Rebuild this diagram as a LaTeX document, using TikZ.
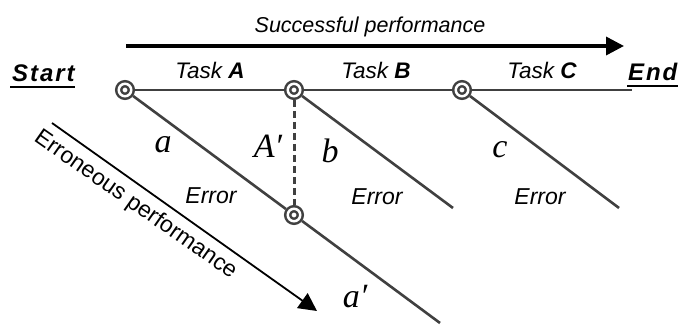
\documentclass[tikz,border=0pt]{standalone}
\usepackage{fontspec}
\setmainfont{Liberation Sans}
\newfontfamily\tmsfont{Liberation Serif}
\usetikzlibrary{arrows.meta}
\definecolor{ln}{HTML}{404040}
\begin{document}
\begin{tikzpicture}[x=1pt,y=-1pt,
  evt/.style={circle,draw=ln,line width=2.5pt,double=white,double distance=2.5pt,fill=white,
    minimum size=12.5pt,inner sep=0pt,outer sep=3.75pt},
  track/.style={draw=ln,line width=2.6pt},
  dashtrack/.style={draw=ln,line width=3pt,dash pattern=on 7pt off 4pt},
  lbl/.style={font=\fontsize{21.5}{24}\selectfont\itshape,anchor=base,inner sep=0pt},
  tasklbl/.style={lbl,font=\fontsize{22.5}{26}\selectfont\itshape},
  errlbl/.style={lbl,font=\fontsize{23}{26}\selectfont\itshape},
  ends/.style={font=\fontsize{24}{27}\selectfont\bfseries\itshape\addfontfeature{LetterSpace=8},anchor=base west,inner sep=0pt},
  mth/.style={font=\fontsize{34}{38}\selectfont\tmsfont\itshape,anchor=base,inner sep=0pt},
  bigarrow/.style={draw=black,-{Triangle[length=18pt,width=18pt]}}
]
\useasboundingbox (0,0) rectangle (680,331);

% headline arrow
\coordinate (sa) at (126,46);
\coordinate (sb) at (624,46);
\draw[bigarrow,line width=3.5pt] (sa) -- (sb);
\node[lbl] (succ) at (370,33) {Successful performance};

% start / end
\node[ends] (start) at (12,82) {Start};
\draw[line width=2.6pt] ([yshift=-5pt,xshift=-2pt]start.base west) -- ([yshift=-5pt]start.base east);
\node[ends] (end) at (628,81) {End};
\draw[line width=2.6pt] ([yshift=-5pt,xshift=-1pt]end.base west) -- ([yshift=-5pt]end.base east);

% task labels
\node[tasklbl] (tA) at (210,79) {Task \textbf{A}};
\node[tasklbl] (tB) at (376,79) {Task \textbf{B}};
\node[tasklbl] (tC) at (542,79) {Task \textbf{C}};

% event nodes
\node[evt] (n1) at (125,90) {};
\node[evt] (n2) at (294,90) {};
\node[evt] (n3) at (462,90) {};
\node[evt] (n4) at (294,215) {};
\coordinate (hend) at (632,90);
\coordinate (e1) at (440,323);
\coordinate (e2) at (453,208);
\coordinate (e3) at (619,208);

% tracks
\draw[track] (n1) -- (n2);
\draw[track] (n2) -- (n3);
\draw[track] (n3) -- (hend);
\draw[track] (n1) -- (n4);
\draw[track] (n4) -- (e1);
\draw[track] (n2) -- (e2);
\draw[track] (n3) -- (e3);
\draw[dashtrack] (n2) -- (n4);

% error labels
\node[errlbl] (err1) at (211,204) {Error};
\node[errlbl] (err2) at (377,205) {Error};
\node[errlbl] (err3) at (540,205) {Error};

% math labels
\node[mth] (la) at (163,153) {a};
\node[mth] (lAp) at (268,158) {A′};
\node[mth] (lb) at (330,163) {b};
\node[mth] (lc) at (500,158) {c};
\node[mth] (lap) at (355,307) {a′};

% erroneous arrow
\coordinate (ea) at (52,123);
\coordinate (eb) at (317,311);
\draw[bigarrow,line width=1.8pt] (ea) -- (eb);
\node[font=\fontsize{23}{26}\selectfont,anchor=base,inner sep=0pt,rotate=-35] (errp) at (132,210) {Erroneous performance};
\end{tikzpicture}
\end{document}
